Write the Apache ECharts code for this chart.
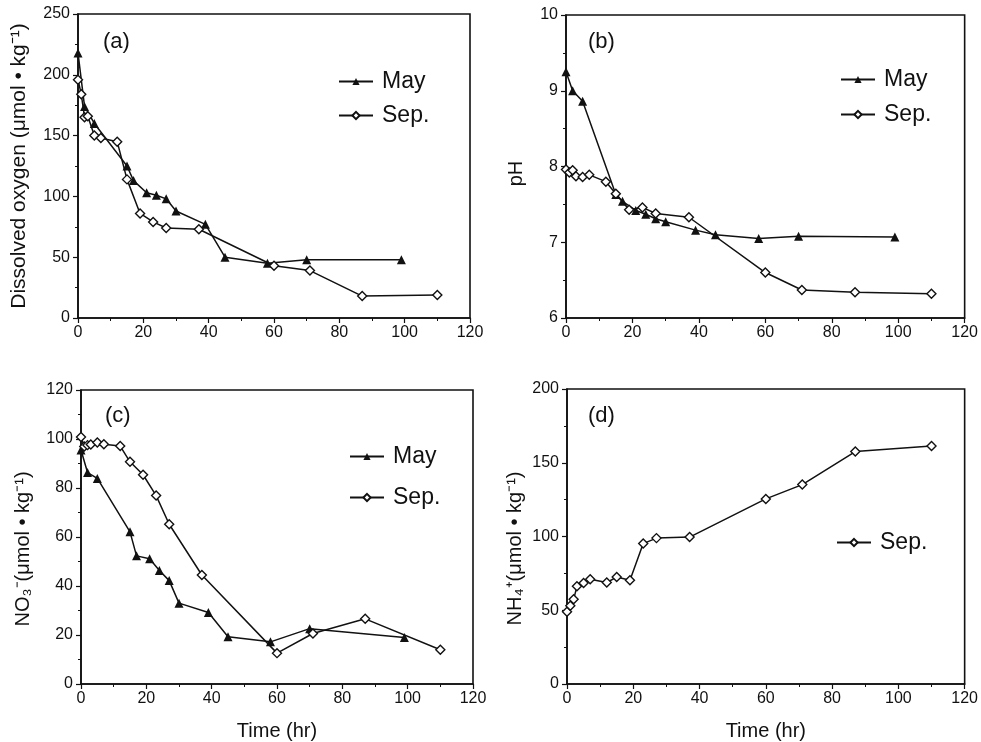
<!DOCTYPE html>
<html>
<head>
<meta charset="utf-8">
<script src="https://cdn.jsdelivr.net/npm/echarts@6/dist/echarts.min.js"></script>
<style>
  html, body { margin: 0; padding: 0; background: #fff; }
  #chart { width: 981px; height: 742px; }
</style>
</head>
<body>
<div id="chart"></div>
<script>
// sampling times (hr)
const mayTime = [0, 2, 5, 15, 17, 21, 24, 27, 30, 39, 45, 58, 70, 99];
const sepTime = [0, 1, 2, 3, 5, 7, 12, 15, 19, 23, 27, 37, 60, 71, 87, 110];

// (a) dissolved oxygen
const mayOxygen = [218, 174, 160, 125, 113, 103, 101, 98, 88, 77, 50, 45, 48, 48];
const sepOxygen = [196, 184, 165, 166, 150, 148, 145, 114, 86, 79, 74, 73, 43, 39, 18, 19];
// (b) pH
const mayPH = [9.25, 9.0, 8.86, 7.63, 7.54, 7.42, 7.37, 7.31, 7.27, 7.16, 7.10, 7.05, 7.08, 7.07];
const sepPH = [7.96, 7.92, 7.95, 7.87, 7.86, 7.89, 7.80, 7.64, 7.43, 7.46, 7.38, 7.33, 6.60, 6.37, 6.34, 6.32];
// (c) nitrate
const mayNitrate = [95.5, 86.3, 83.9, 62.1, 52.3, 51.1, 46.3, 42.2, 33.0, 29.2, 19.3, 17.2, 22.6, 19.0];
const sepNitrate = [100.8, 96.9, 97.5, 97.8, 98.6, 97.9, 97.1, 90.7, 85.4, 76.9, 65.2, 44.5, 12.6, 20.6, 26.6, 14.0];
// (d) ammonium
const sepAmmonium = [49, 53, 57.4, 66.2, 68.4, 71, 68.8, 72.5, 70.3, 95.2, 98.9, 99.6, 125.5, 135.2, 157.6, 161.3];

const panelLabels = ['(a)', '(b)', '(c)', '(d)'];
const xTicks = { min: 0, max: 120, interval: 20 };

const FONT = '"Liberation Sans", Arial, Helvetica, sans-serif';
const INK = '#111';

const zip = (xs, ys) => xs.map((x, i) => [x, ys[i]]);

function makeX(idx, withName) {
  return {
    type: 'value',
    gridIndex: idx,
    min: xTicks.min,
    max: xTicks.max,
    interval: xTicks.interval,
    name: withName ? 'Time (hr)' : '',
    nameLocation: 'middle',
    nameGap: 37,
    nameTextStyle: { fontFamily: FONT, fontSize: 20, color: INK },
    axisLine: { show: true, onZero: false, lineStyle: { color: INK, width: 1.6 } },
    axisTick: { show: true, length: 5, lineStyle: { color: INK, width: 1.2 } },
    minorTick: { show: true, splitNumber: 2, length: 3, lineStyle: { color: INK, width: 1 } },
    splitLine: { show: false },
    axisLabel: { fontFamily: FONT, fontSize: 16, color: INK, margin: 7 }
  };
}

// shift > 0 moves the rotated name downwards
function makeY(idx, min, max, interval, name, gap, size, shift) {
  return {
    type: 'value',
    gridIndex: idx,
    min, max, interval,
    name,
    nameLocation: 'middle',
    nameGap: gap,
    nameTextStyle: { fontFamily: FONT, fontSize: size, color: INK, padding: [0, shift * 2, 0, 0] },
    axisLine: { show: true, onZero: false, lineStyle: { color: INK, width: 1.6 } },
    axisTick: { show: true, length: 5, lineStyle: { color: INK, width: 1.2 } },
    minorTick: { show: true, splitNumber: 2, length: 3, lineStyle: { color: INK, width: 1 } },
    splitLine: { show: false },
    axisLabel: { fontFamily: FONT, fontSize: 16, color: INK, margin: 8 }
  };
}

function maySeries(idx, ys) {
  return {
    name: 'May', type: 'line', xAxisIndex: idx, yAxisIndex: idx,
    data: zip(mayTime, ys),
    symbol: 'triangle', symbolSize: 9,
    lineStyle: { color: INK, width: 1.5 },
    itemStyle: { color: INK, borderColor: INK, borderWidth: 0 },
    z: 2
  };
}

function sepSeries(idx, ys) {
  return {
    name: 'Sep.', type: 'line', xAxisIndex: idx, yAxisIndex: idx,
    data: zip(sepTime, ys),
    symbol: 'diamond', symbolSize: 9,
    lineStyle: { color: INK, width: 1.5 },
    itemStyle: { color: '#fff', borderColor: INK, borderWidth: 1.4 },
    z: 3
  };
}

function legendItem(name, left, top) {
  return {
    data: [name],
    left, top,
    padding: 0,
    itemWidth: 34,
    itemHeight: 9,
    itemGap: 0,
    selectedMode: false,
    textStyle: { fontFamily: FONT, fontSize: 23, color: INK, padding: [0, 0, 0, 4] }
  };
}

const grids = [
  { left: 78, top: 14, width: 392, height: 304 },
  { left: 566, top: 15, width: 399, height: 303 },
  { left: 81, top: 390, width: 392, height: 303 },
  { left: 567, top: 389, width: 400, height: 304 }
].map(g => Object.assign({ show: true, borderColor: INK, borderWidth: 1.6, backgroundColor: 'transparent' }, g));

const titlePos = [[103, 31], [588, 31], [105, 405], [588, 405]];

const option = {
  backgroundColor: '#fff',
  animation: false,
  title: panelLabels.map((t, i) => ({
    text: t, left: titlePos[i][0], top: titlePos[i][1], padding: 0,
    textStyle: { fontFamily: FONT, fontSize: 22, fontWeight: 'normal', color: INK }
  })),
  legend: [
    legendItem('May', 338, 70),
    legendItem('Sep.', 338, 104),
    legendItem('May', 840, 68),
    legendItem('Sep.', 840, 103),
    legendItem('May', 349, 445),
    legendItem('Sep.', 349, 486),
    legendItem('Sep.', 836, 531)
  ],
  grid: grids,
  xAxis: [makeX(0, false), makeX(1, false), makeX(2, true), makeX(3, true)],
  yAxis: [
    makeY(0, 0, 250, 50, 'Dissolved oxygen (μmol • kg⁻¹)', 48, 21, 0),
    makeY(1, 6, 10, 1, 'pH', 40, 20, 7),
    makeY(2, 0, 120, 20, 'NO₃⁻(μmol • kg⁻¹)', 48, 20, 12),
    makeY(3, 0, 200, 50, 'NH₄⁺(μmol • kg⁻¹)', 42, 20, 12)
  ],
  series: [
    maySeries(0, mayOxygen), sepSeries(0, sepOxygen),
    maySeries(1, mayPH), sepSeries(1, sepPH),
    maySeries(2, mayNitrate), sepSeries(2, sepNitrate),
    sepSeries(3, sepAmmonium)
  ]
};

const chart = echarts.init(document.getElementById('chart'), null, { renderer: 'canvas' });
chart.setOption(option);
</script>
</body>
</html>
